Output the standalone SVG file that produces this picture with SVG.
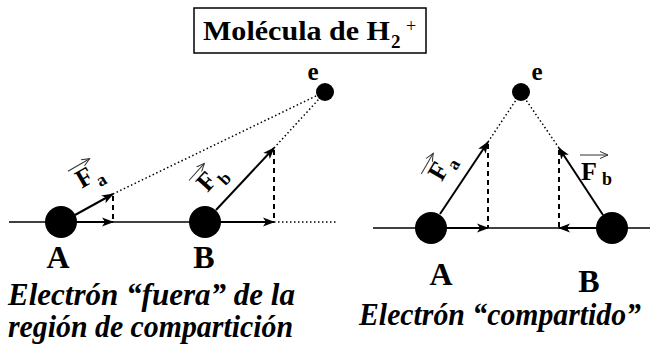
<svg xmlns="http://www.w3.org/2000/svg" width="651" height="347" viewBox="0 0 651 347">
<defs>
<marker id="ah" markerUnits="userSpaceOnUse" markerWidth="14" markerHeight="10" refX="11" refY="5" orient="auto">
<path d="M0,0.5 L12,5 L0,9.5 L3,5 Z" fill="#000"/>
</marker>
<marker id="oh" markerUnits="userSpaceOnUse" markerWidth="10" markerHeight="8" refX="8" refY="4" orient="auto">
<path d="M0,0.5 L8,4 L0,7.5" fill="none" stroke="#333" stroke-width="1"/>
</marker>
</defs>
<style>
.base{stroke:#000;stroke-width:1.5;fill:none}
.vec{stroke:#000;stroke-width:2;fill:none;marker-end:url(#ah)}
.dash{stroke:#000;stroke-width:2;stroke-dasharray:5,4;fill:none}
.dot{stroke:#000;stroke-width:1.5;stroke-dasharray:1.5,2.5;fill:none}
.ov{stroke:#333;stroke-width:1;fill:none;marker-end:url(#oh)}
.nuc{fill:#000}
text{font-family:'Liberation Serif','DejaVu Serif','Noto Serif',serif;font-weight:bold;fill:#000}
.big{font-size:32px;text-anchor:middle}
.el{font-size:25px;text-anchor:middle}
.F{font-size:26px;text-anchor:middle}
.sub{font-size:18px}
.cap{font-style:italic;font-size:31px}
</style>

<g id="title">
<rect x="194" y="8" width="232" height="45" fill="#fff" stroke="#000" stroke-width="1.5"/>
<text x="203" y="40" font-size="28" textLength="187" lengthAdjust="spacingAndGlyphs">Molécula de H</text>
<text x="391" y="48" font-size="19">2</text>
<text x="406" y="32" font-size="18" style="font-weight:normal">+</text>
</g>

<g id="connectors">
<line class="base" x1="9" y1="222" x2="274" y2="222"/>
<line class="dot" x1="274" y1="222" x2="337" y2="222"/>
<line class="vec" x1="77" y1="222" x2="113" y2="222"/>
<line class="vec" x1="75" y1="215" x2="113" y2="194"/>
<line class="dash" x1="113" y1="196" x2="113" y2="222"/>
<line class="dot" x1="113" y1="194" x2="318" y2="95"/>
<line class="vec" x1="221" y1="222" x2="274" y2="222"/>
<line class="vec" x1="216" y1="210" x2="274" y2="148"/>
<line class="dash" x1="274" y1="150" x2="274" y2="222"/>
<line class="dot" x1="274" y1="148" x2="319" y2="99"/>
<line class="base" x1="373" y1="228" x2="650" y2="228"/>
<line class="vec" x1="447" y1="228" x2="488" y2="228"/>
<line class="vec" x1="440" y1="214" x2="488" y2="142"/>
<line class="dash" x1="488" y1="144" x2="488" y2="228"/>
<line class="dot" x1="488" y1="142" x2="516" y2="100"/>
<line class="vec" x1="596" y1="228" x2="559" y2="228"/>
<line class="vec" x1="603" y1="215" x2="559" y2="148"/>
<line class="dash" x1="559" y1="150" x2="559" y2="228"/>
<line class="dot" x1="559" y1="148" x2="526" y2="100"/>
</g>

<g id="nucleusA1"><circle class="nuc" cx="61" cy="222" r="16"/><text class="big" x="58" y="268">A</text></g>
<g id="nucleusB1"><circle class="nuc" cx="205" cy="222" r="16"/><text class="big" x="204" y="268">B</text></g>
<g id="electron1"><circle class="nuc" cx="325" cy="92" r="9"/><text class="el" x="313" y="80">e</text></g>

<g id="nucleusA2"><circle class="nuc" cx="431" cy="228" r="16"/><text class="big" x="441" y="285">A</text></g>
<g id="nucleusB2"><circle class="nuc" cx="612" cy="228" r="16"/><text class="big" x="589" y="292">B</text></g>
<g id="electron2"><circle class="nuc" cx="521" cy="92" r="9"/><text class="el" x="537" y="80">e</text></g>

<g id="labelFa1" transform="translate(84,177) rotate(-30)">
<line class="ov" x1="-11" y1="-13" x2="14" y2="-13"/>
<text class="F" x="0" y="9">F</text>
<text class="sub" x="9" y="17">a</text>
</g>
<g id="labelFb1" transform="translate(206,181) rotate(-48)">
<line class="ov" x1="-11" y1="-13" x2="12" y2="-13"/>
<text class="F" x="0" y="9">F</text>
<text class="sub" x="9" y="18">b</text>
</g>
<g id="labelFa2" transform="translate(438,171) rotate(-60)">
<line class="ov" x1="-11" y1="-13" x2="13" y2="-13"/>
<text class="F" x="0" y="9">F</text>
<text class="sub" x="9" y="16">a</text>
</g>
<g id="labelFb2" transform="translate(589,171)">
<line class="ov" x1="-9" y1="-16" x2="19" y2="-16"/>
<text class="F" x="0" y="9">F</text>
<text class="sub" x="13" y="14">b</text>
</g>

<g id="captions">
<text class="cap" x="8" y="305" textLength="287" lengthAdjust="spacingAndGlyphs">Electrón “fuera” de la</text>
<text class="cap" x="8" y="337" textLength="285" lengthAdjust="spacingAndGlyphs">región de compartición</text>
<text class="cap" x="359" y="325" textLength="282" lengthAdjust="spacingAndGlyphs">Electrón “compartido”</text>
</g>
</svg>
